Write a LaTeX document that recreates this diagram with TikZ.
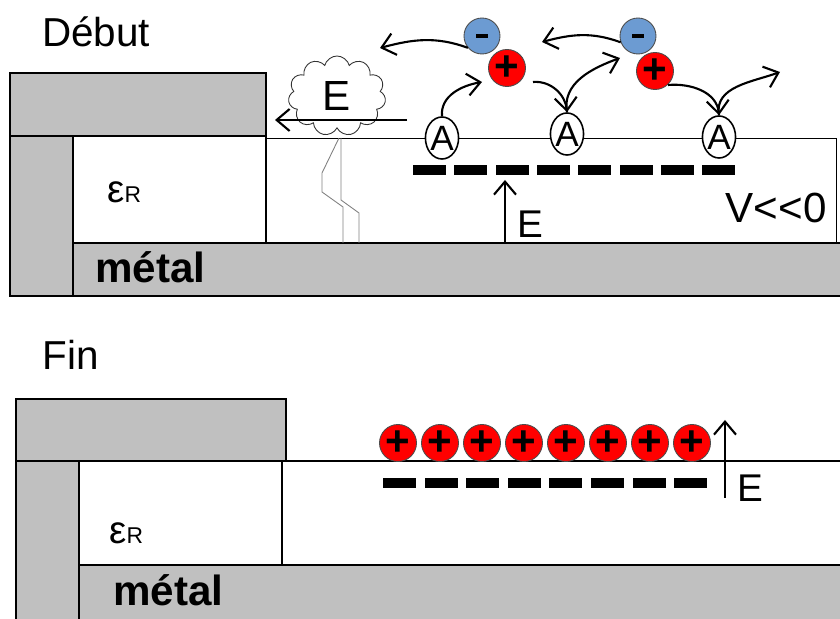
\documentclass[tikz,border=0pt]{standalone}
\usepackage{fontspec}
\setmainfont{Liberation Sans}
\usetikzlibrary{shapes.geometric,shapes.symbols,arrows.meta}
\definecolor{gris}{RGB}{192,192,192}
\definecolor{bleu}{RGB}{108,155,210}
\definecolor{rouge}{RGB}{255,0,0}

\begin{document}
\begin{tikzpicture}[x=0.02cm,y=0.02cm,
	bloc/.style={draw,fill=gris,line width=1.2pt},
	vide/.style={draw,fill=white,line width=1.2pt},
	cation/.style={circle,draw=black!70,fill=rouge,line width=0.5pt,minimum size=0.74cm,inner sep=0pt,font=\fontsize{24}{24}\selectfont\bfseries},
	anion/.style={circle,draw=black!70,fill=bleu,line width=0.5pt,minimum size=0.72cm,inner sep=0pt},
	atome/.style={ellipse,draw,fill=white,line width=0.9pt,minimum width=0.62cm,minimum height=0.84cm,inner sep=0pt,font=\fontsize{20}{20}\selectfont},
	fleche/.style={line width=1.2pt,-{Straight Barb[length=0.26cm,width=0.44cm]}},
	grand/.style={anchor=base west,inner sep=0pt,font=\fontsize{23}{26}\selectfont},
	champ/.style={anchor=base west,inner sep=0pt,font=\fontsize{22}{24}\selectfont},
	gras/.style={anchor=base west,inner sep=0pt,font=\fontsize{24}{26}\selectfont\bfseries},
	epsr/.style={anchor=base west,inner sep=0pt,font=\fontsize{22}{22}\selectfont}]
	
	\clip (0,0) rectangle (840,619);
	
	% --- debut ---
	\node[grand] (debut) at (42,572) {Début};
	\draw[bloc] (10,483) rectangle (266,546);
	\draw[bloc] (10,323) rectangle (73,483);
	\draw[bloc] (73,323) rectangle (850,376);
	\draw[vide] (73,376) rectangle (266,483);
	\draw[line width=0.5pt] (266,376) rectangle (836,481);
	\node[epsr] (eps1) at (107,416) {ε{\fontsize{13}{13}\selectfont R}};
	\node[gras] (metal1) at (95,336) {métal};
	
	\draw[black!50,line width=0.5pt] (339,481) -- (322,446) -- (322,427) -- (343,412) -- (343,376)
		(341,481) -- (341,419) -- (359,406) -- (359,376);
	\node[cloud,cloud puffs=11,cloud ignores aspect,draw=black!80,line width=0.5pt,fill=white,
		minimum width=1.95cm,minimum height=1.6cm,font=\fontsize{24}{24}\selectfont] (nuage) at (337,523) {E};
	\coordinate (gauche) at (275,499);
	\coordinate (droite) at (407,499);
	\draw[fleche] (droite) -- (gauche);
	
	\foreach \i in {0,...,7}
		\fill (413+41.3*\i,444) rectangle +(33,10);
	\coordinate (pied1) at (505,376);
	\coordinate (tete1) at (505,439);
	\draw[fleche] (pied1) -- (tete1);
	\node[champ] (E1) at (517,381) {E};
	\node[anchor=base east,inner sep=0pt,font=\fontsize{24}{26}\selectfont] (tension) at (827,396) {V<\kern0pt<\kern0pt0};
	
	\node[atome] (A1) at (442,481) {A};
	\node[atome] (A2) at (567,485) {A};
	\node[atome] (A3) at (719,482) {A};
	\node[anion] (moins1) at (482,583) {\rule{0.24cm}{0.07cm}};
	\node[cation] (plus1) at (507,551) {+};
	\node[anion] (moins2) at (638,583) {\rule{0.24cm}{0.07cm}};
	\node[cation] (plus2) at (655,548) {+};
	
	\coordinate (c1) at (380,571);
	\coordinate (c2) at (482,537);
	\coordinate (c3) at (620,561);
	\coordinate (c4) at (542,577);
	\coordinate (c5) at (780,547);
	\coordinate (d1) at (533,537);
	\coordinate (d2) at (668,534);
	\draw[fleche] (moins1.220) to[out=160,in=15] (c1);
	\draw[fleche] (A1.north) to[out=95,in=190] (c2);
	\draw[fleche] (d1) to[out=5,in=95] (A2.north);
	\draw[fleche] (A2.north) to[out=100,in=200] (c3);
	\draw[fleche] (moins2.200) to[out=160,in=15] (c4);
	\draw[fleche] (d2) to[out=5,in=95] (A3.north);
	\draw[fleche] (A3.north) to[out=100,in=200] (c5);
	
	% --- fin ---
	\node[grand] (fin) at (42,249) {Fin};
	\draw[bloc] (16,158) rectangle (286,220);
	\draw[bloc] (16,-10) rectangle (79,158);
	\draw[bloc] (79,-10) rectangle (850,54);
	\draw[vide] (79,54) rectangle (282,158);
	\draw[vide] (282,54) rectangle (850,158);
	\node[epsr] (eps2) at (109,75) {ε{\fontsize{13}{13}\selectfont R}};
	\node[gras] (metal2) at (113,13) {métal};
	
	\foreach \i in {0,...,7}
		\fill (383+41.6*\i,131) rectangle +(33,10);
	\foreach \i in {1,...,8}
		\node[cation] (ion\i) at (356+42*\i,176) {+};
	\coordinate (pied2) at (725,121);
	\coordinate (tete2) at (725,199);
	\draw[fleche] (pied2) -- (tete2);
	\node[champ] (E2) at (737,117) {E};
	
\end{tikzpicture}
\end{document}
